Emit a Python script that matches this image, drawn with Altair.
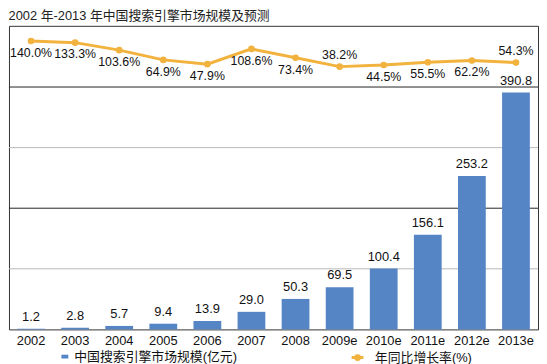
import altair as alt
import pandas as pd

# ---- data ----
years = ["2002", "2003", "2004", "2005", "2006", "2007", "2008",
         "2009e", "2010e", "2011e", "2012e", "2013e"]
market = [1.2, 2.8, 5.7, 9.4, 13.9, 29.0, 50.3, 69.5, 100.4, 156.1, 253.2, 390.8]
growth = [140.0, 133.3, 103.6, 64.9, 47.9, 108.6, 73.4, 38.2, 44.5, 55.5, 62.2, 54.3]
grid_values = [100, 200, 300, 400]
bar_series = "中国搜索引擎市场规模(亿元)"
line_series = "年同比增长率(%)"
title_text = "2002 年-2013 年中国搜索引擎市场规模及预测"

FONT = "Liberation Sans, Noto Sans CJK SC, sans-serif"
BLUE = "#5585C5"
ORANGE = "#F2B23E"
TXT = "#111111"

df = pd.DataFrame({"year": years, "market": market, "growth": growth})
df["bar_series"] = bar_series
df["line_series"] = line_series
grid_df = pd.DataFrame({"g": grid_values})

W, H = 535, 307
bar_scale = alt.Scale(domain=[0, 501], nice=False, zero=True)
line_scale = alt.Scale(domain=[-1004, 200], nice=False, zero=False)

x = alt.X(
    "year:N", sort=years,
    scale=alt.Scale(paddingInner=0.37, paddingOuter=0.185),
    axis=alt.Axis(title=None, labelAngle=0, ticks=False, domain=False,
                  labelFont=FONT, labelFontSize=13, labelColor=TXT, labelPadding=5),
)

grid = alt.Chart(grid_df).mark_rule(strokeWidth=1).encode(
    y=alt.Y("g:Q", scale=bar_scale, axis=None),
    stroke=alt.condition("datum.g % 200 === 0", alt.value("#222222"), alt.value("#b8b8b8")),
)

bars = alt.Chart(df).mark_bar().encode(
    x=x,
    y=alt.Y("market:Q", scale=bar_scale, axis=None),
    color=alt.Color(
        "bar_series:N",
        scale=alt.Scale(domain=[bar_series], range=[BLUE]),
        legend=alt.Legend(
            title=None, orient="none", legendX=50, legendY=328, padding=0,
            symbolType="M-1,-0.55H1V0.55H-1Z", symbolSize=49,
            labelFont=FONT, labelFontSize=13, labelColor=TXT,
            labelOffset=3, labelLimit=300,
        ),
    ),
)

bar_text = alt.Chart(df).mark_text(
    dy=-8, baseline="alphabetic", font=FONT, fontSize=13, color=TXT
).encode(
    x=x,
    y=alt.Y("market:Q", scale=bar_scale, axis=None),
    text=alt.Text("market:Q", format=".1f"),
)

line = alt.Chart(df).mark_line(strokeWidth=3).encode(
    x=x,
    y=alt.Y("growth:Q", scale=line_scale, axis=None),
    stroke=alt.Stroke(
        "line_series:N",
        scale=alt.Scale(domain=[line_series], range=[ORANGE]),
        legend=alt.Legend(
            title=None, orient="none", legendX=345, legendY=328, padding=0,
            symbolType="M-1,0H1M0.33,0A0.33,0.33,0,1,1,-0.33,0A0.33,0.33,0,1,1,0.33,0Z",
            symbolSize=144, symbolStrokeWidth=3, symbolFillColor=ORANGE,
            labelFont=FONT, labelFontSize=13, labelColor=TXT,
            labelOffset=10, labelLimit=300,
        ),
    ),
)

points = alt.Chart(df).mark_circle(size=45, opacity=1, color=ORANGE).encode(
    x=x,
    y=alt.Y("growth:Q", scale=line_scale, axis=None),
)

pct_base = alt.Chart(df).transform_calculate(
    lbl="format(datum.growth, '.1f') + '%'"
)
pct_below = pct_base.transform_filter(
    "indexof(['2009e', '2013e'], datum.year) < 0"
).mark_text(dy=16, baseline="alphabetic", font=FONT, fontSize=12.5, color=TXT).encode(
    x=x,
    y=alt.Y("growth:Q", scale=line_scale, axis=None),
    text="lbl:N",
)
pct_above = pct_base.transform_filter(
    "indexof(['2009e', '2013e'], datum.year) >= 0"
).mark_text(dy=-8, baseline="alphabetic", font=FONT, fontSize=12.5, color=TXT).encode(
    x=x,
    y=alt.Y("growth:Q", scale=line_scale, axis=None),
    text="lbl:N",
)

chart = alt.layer(
    grid, bars, bar_text, line, points, pct_below, pct_above
).resolve_scale(
    y="independent"
).properties(
    width=W, height=H, padding=0,
    title=alt.TitleParams(title_text, anchor="start", font=FONT, fontSize=13,
                          fontWeight="normal", color="#222222", offset=3),
).configure_view(stroke="#333333", strokeWidth=1)

chart.save("out.html", embed_options={"renderer": "svg", "actions": False})
